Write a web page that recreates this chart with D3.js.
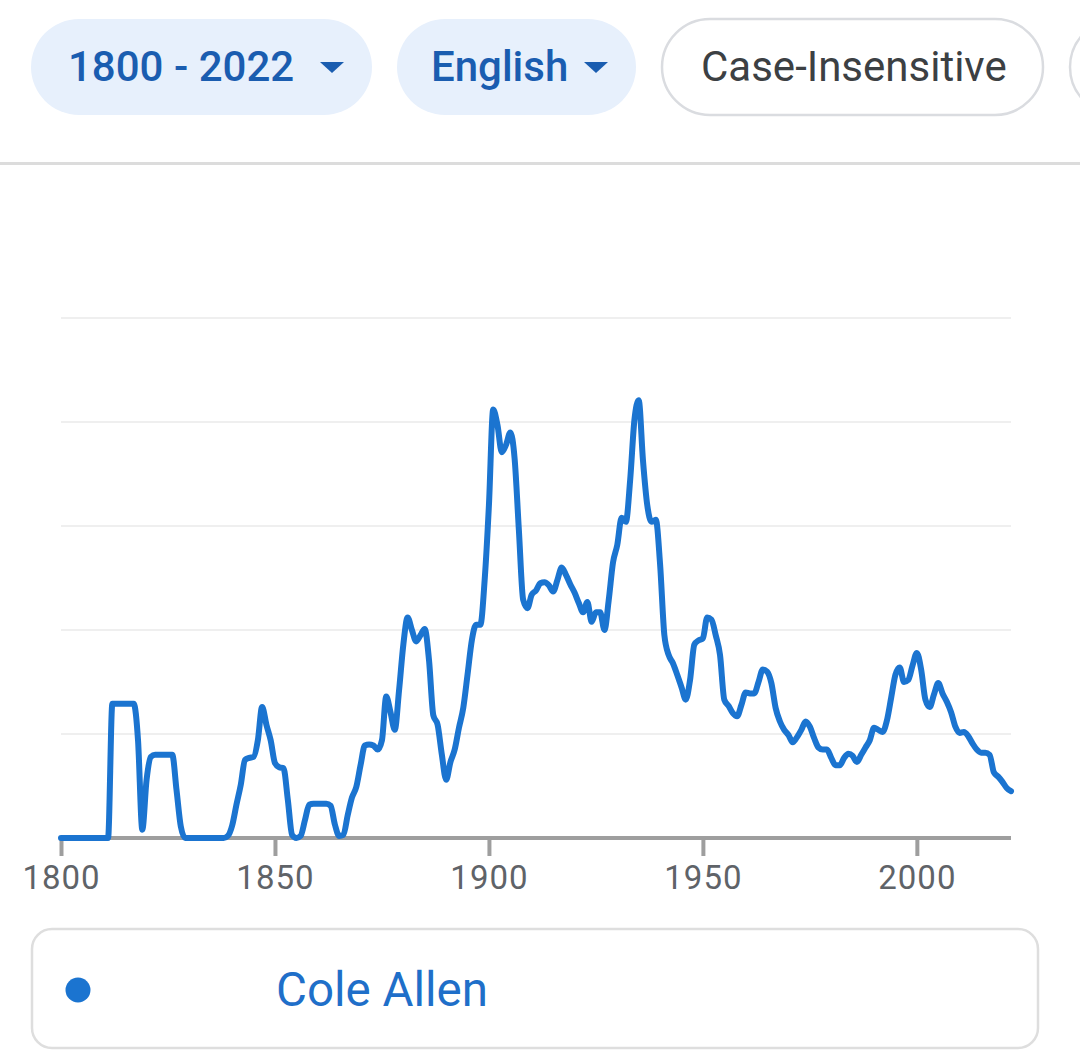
<!DOCTYPE html>
<html>
<head>
<meta charset="utf-8">
<script src="https://cdn.jsdelivr.net/npm/d3@7"></script>
<style>
  html, body { margin: 0; padding: 0; background: #ffffff; }
  svg { display: block; font-family: Roboto, "Noto Sans", Arial, sans-serif; }
</style>
</head>
<body>
<svg id="chart" width="1080" height="1064"></svg>
<script>
// ---- data (relative frequency, in units of one gridline step) ----
const startYear = 1800;
const endYear = 2022;
const seriesName = "Cole Allen";
const values = [
  // 1800-1809
  0, 0, 0, 0, 0, 0, 0, 0, 0, 0,
  // 1810-1819
  0, 0, 1.29, 1.29, 1.29, 1.29, 1.29, 1.29, 0.94, 0.08,
  // 1820-1829
  0.56, 0.78, 0.80, 0.80, 0.80, 0.80, 0.80, 0.46, 0.11, 0,
  // 1830-1839
  0, 0, 0, 0, 0, 0, 0, 0, 0, 0.02,
  // 1840-1849
  0.12, 0.32, 0.51, 0.75, 0.77, 0.78, 0.94, 1.26, 1.09, 0.94,
  // 1850-1859
  0.72, 0.68, 0.67, 0.37, 0.03, 0, 0.02, 0.17, 0.32, 0.33,
  // 1860-1869
  0.33, 0.33, 0.33, 0.31, 0.13, 0.02, 0.03, 0.22, 0.39, 0.49,
  // 1870-1879
  0.70, 0.89, 0.90, 0.89, 0.85, 0.94, 1.36, 1.21, 1.04, 1.42,
  // 1880-1889
  1.86, 2.12, 2.00, 1.89, 1.95, 2.01, 1.71, 1.18, 1.09, 0.80,
  // 1890-1899
  0.56, 0.73, 0.85, 1.06, 1.25, 1.57, 1.90, 2.05, 2.05, 2.48,
  // 1900-1909
  3.20, 4.12, 3.97, 3.71, 3.78, 3.90, 3.65, 2.96, 2.29, 2.21,
  // 1910-1919
  2.34, 2.38, 2.45, 2.46, 2.43, 2.37, 2.48, 2.60, 2.53, 2.44,
  // 1920-1929
  2.36, 2.26, 2.17, 2.27, 2.08, 2.17, 2.17, 2.00, 2.29, 2.65,
  // 1930-1939
  2.82, 3.08, 3.04, 3.44, 4.02, 4.21, 3.63, 3.20, 3.04, 3.06,
  // 1940-1949
  2.63, 1.95, 1.76, 1.68, 1.57, 1.45, 1.33, 1.52, 1.86, 1.90,
  // 1950-1959
  1.92, 2.12, 2.10, 1.95, 1.76, 1.33, 1.27, 1.20, 1.17, 1.28,
  // 1960-1969
  1.40, 1.39, 1.39, 1.50, 1.62, 1.60, 1.49, 1.25, 1.12, 1.04,
  // 1970-1979
  0.99, 0.92, 0.97, 1.04, 1.12, 1.07, 0.96, 0.87, 0.85, 0.85,
  // 1980-1989
  0.77, 0.70, 0.70, 0.77, 0.81, 0.79, 0.73, 0.80, 0.87, 0.94,
  // 1990-1999
  1.06, 1.04, 1.02, 1.13, 1.35, 1.57, 1.64, 1.50, 1.52, 1.66,
  // 2000-2009
  1.78, 1.62, 1.33, 1.26, 1.38, 1.49, 1.39, 1.31, 1.21, 1.07,
  // 2010-2019
  1.01, 1.02, 0.98, 0.91, 0.85, 0.82, 0.82, 0.80, 0.63, 0.59,
  // 2020-2022
  0.54, 0.48, 0.45
];
const tickYears = [1800, 1850, 1900, 1950, 2000];
const gridSteps = [1, 2, 3, 4, 5];
const rangeLabel = "1800 - 2022";
const languageLabel = "English";
const caseLabel = "Case-Insensitive";

// ---- styles ----
const lineColor = "#1b74d0";
const pillBlue = "#e7f0fc";
const pillText = "#1a5db0";
const borderGrey = "#dadce0";

const svg = d3.select("#chart");

// ---- top filter pills ----
const pillsG = svg.append("g");
function pill(px, w, fill, stroke, label, textColor, weight, textX, caretX) {
  pillsG.append("rect")
    .attr("x", px).attr("y", 19).attr("width", w).attr("height", 96)
    .attr("rx", 48).attr("ry", 48)
    .attr("fill", fill)
    .attr("stroke", stroke || "none").attr("stroke-width", stroke ? 2.5 : 0);
  pillsG.append("text")
    .attr("x", textX).attr("y", 81)
    .attr("font-size", 42).attr("font-weight", weight)
    .attr("fill", textColor)
    .text(label);
  if (caretX != null) {
    pillsG.append("path")
      .attr("d", `M${caretX},62 L${caretX + 24},62 L${caretX + 12},73 Z`)
      .attr("fill", textColor);
  }
}
pill(31, 341, pillBlue, null, rangeLabel, pillText, 500, 68, 320);
pill(397, 239, pillBlue, null, languageLabel, pillText, 500, 431, 584);
pill(662, 381, "#ffffff", borderGrey, caseLabel, "#3c4043", 400, 701, null);
pillsG.append("rect")
  .attr("x", 1070).attr("y", 19).attr("width", 300).attr("height", 96)
  .attr("rx", 48).attr("fill", "#fff").attr("stroke", borderGrey).attr("stroke-width", 2.5);

// separator
svg.append("rect").attr("x", 0).attr("y", 162).attr("width", 1080).attr("height", 3)
  .attr("fill", "#dcdcdc");

// ---- chart ----
const data = values.map((v, i) => ({ year: startYear + i, value: v }));

const x = d3.scaleLinear().domain([startYear, endYear]).range([61, 1011]);
const y = d3.scaleLinear().domain([0, 5]).range([838, 318]);

// gridlines
svg.append("g")
  .selectAll("line")
  .data(gridSteps)
  .join("line")
  .attr("x1", x(startYear)).attr("x2", x(endYear))
  .attr("y1", d => y(d)).attr("y2", d => y(d))
  .attr("stroke", "#efefef").attr("stroke-width", 2);

// x axis
const xAxis = d3.axisBottom(x)
  .tickValues(tickYears)
  .tickFormat(d3.format("d"))
  .tickSize(18)
  .tickPadding(10);
const axisG = svg.append("g")
  .attr("transform", `translate(0,${y(0)})`)
  .call(xAxis);
axisG.select(".domain")
  .attr("d", `M${x(startYear)},0H${x(endYear)}`)
  .attr("stroke", "#9e9e9e").attr("stroke-width", 4);
axisG.selectAll(".tick line").attr("stroke", "#9e9e9e").attr("stroke-width", 4);
axisG.selectAll(".tick text")
  .attr("font-size", 33)
  .attr("font-family", "Roboto, sans-serif")
  .attr("fill", "#5f6368")
  .attr("letter-spacing", 1);

// line
const line = d3.line()
  .x(d => x(d.year))
  .y(d => y(d.value))
  .curve(d3.curveMonotoneX);
svg.append("path")
  .datum(data)
  .attr("d", line)
  .attr("fill", "none")
  .attr("stroke", lineColor)
  .attr("stroke-width", 6)
  .attr("stroke-linejoin", "round")
  .attr("stroke-linecap", "round");

// ---- legend ----
svg.append("rect")
  .attr("x", 32).attr("y", 929).attr("width", 1006).attr("height", 119)
  .attr("rx", 20).attr("fill", "#fff")
  .attr("stroke", "#dedede").attr("stroke-width", 2.5);
svg.append("circle")
  .attr("cx", 78).attr("cy", 990).attr("r", 12.5)
  .attr("fill", lineColor);
svg.append("text")
  .attr("x", 276).attr("y", 1006)
  .attr("font-size", 47.5)
  .attr("fill", "#1f6fc9")
  .text(seriesName);
</script>
</body>
</html>
